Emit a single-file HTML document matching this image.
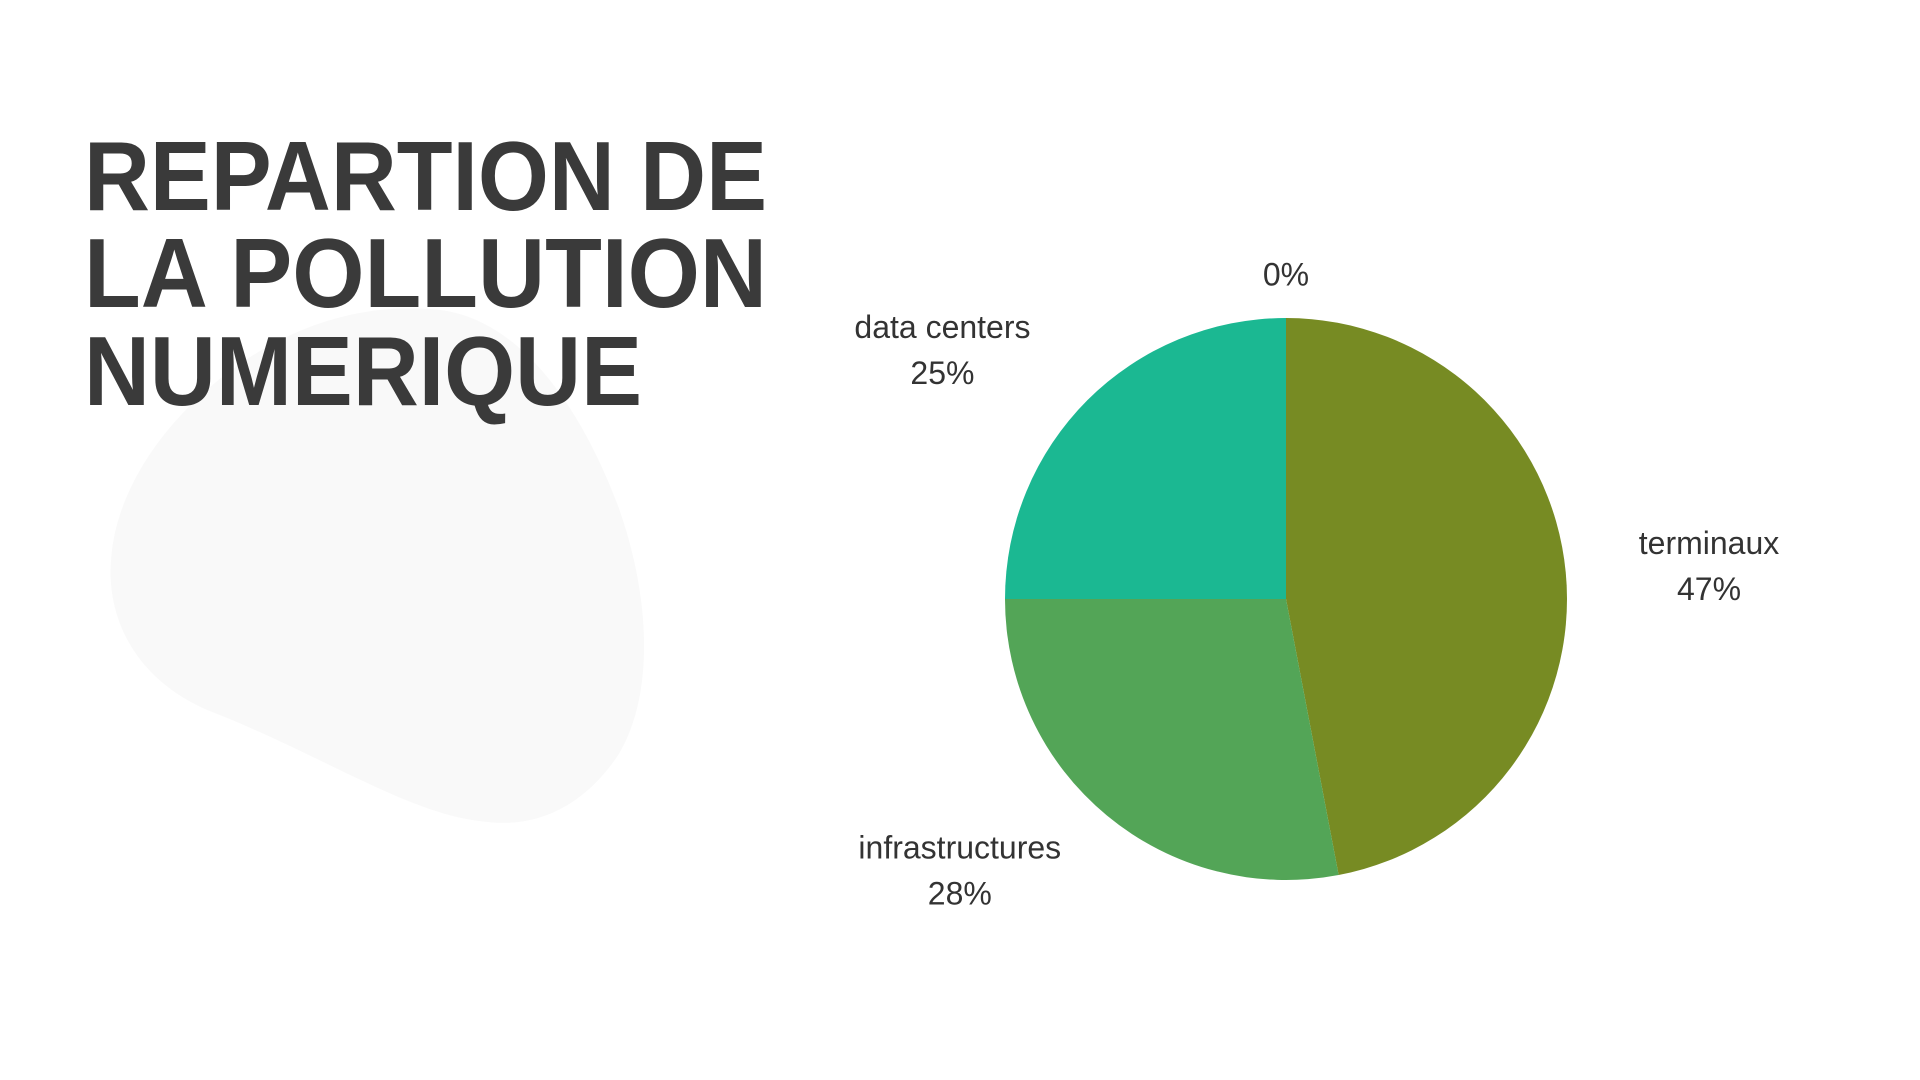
<!DOCTYPE html>
<html><head><meta charset="utf-8"><style>
html,body{margin:0;padding:0;background:#fff;}
svg{display:block;}
</style></head><body>
<svg id="chart" width="1920" height="1080" viewBox="0 0 1920 1080" xmlns="http://www.w3.org/2000/svg">
<rect width="1920" height="1080" fill="#ffffff"/>
<path fill="#f9f9f9" transform="scale(1.237)"
 d="M350,250 C420,255 470,330 500,410 C525,480 530,560 500,610 C470,655 430,670 390,664 C330,658 260,610 170,575 C110,550 85,500 90,450 C95,390 140,330 200,290 C250,258 300,246 350,250 Z"/>
<g fill="#3a3a3a" font-family="'Liberation Sans', sans-serif" font-weight="bold" font-size="98">
<text x="84" y="210" textLength="683" lengthAdjust="spacingAndGlyphs">REPARTION DE</text>
<text x="84" y="307" textLength="683" lengthAdjust="spacingAndGlyphs">LA POLLUTION</text>
<text x="84" y="405" textLength="558" lengthAdjust="spacingAndGlyphs">NUMERIQUE</text>
</g>
<g id="pie"></g>
<g id="labels" font-family="'Liberation Sans', sans-serif" font-size="32" fill="#333" text-anchor="middle"></g>
</svg>
<script>
const categories = ["terminaux", "infrastructures", "data centers", ""];
const values = [47, 28, 25, 0];
const colors = ["#778b23", "#53a557", "#1bb892", "#cccccc"];

const NS = "http://www.w3.org/2000/svg";
const cx = 1286, cy = 599, r = 281;
const total = values.reduce((a,b)=>a+b,0);
const pie = document.getElementById("pie");
const labels = document.getElementById("labels");
function pt(angle, rad){ return [cx + rad*Math.sin(angle), cy - rad*Math.cos(angle)]; }
let acc = 0;
values.forEach((v,i)=>{
  const a0 = acc/total*2*Math.PI;
  acc += v;
  const a1 = acc/total*2*Math.PI;
  if (v > 0) {
    const p0 = pt(a0,r), p1 = pt(a1,r);
    const large = (a1-a0) > Math.PI ? 1 : 0;
    const path = document.createElementNS(NS,"path");
    path.setAttribute("d", `M${cx},${cy} L${p0[0]},${p0[1]} A${r},${r} 0 ${large} 1 ${p1[0]},${p1[1]} Z`);
    path.setAttribute("fill", colors[i]);
    
    
    pie.appendChild(path);
  }
  const mid = (a0+a1)/2;
  const pct = Math.round(v/total*100) + "%";
  const g = document.createElementNS(NS,"g");
  
  
  if (v > 0) {
    const D = 1.51*r;
    const dy = -Math.cos(mid)*D*0.83;
    const dx = Math.sign(Math.sin(mid)) * Math.sqrt(D*D - dy*dy);
    const lx = cx + dx, ly = cy + dy;
    const t1 = document.createElementNS(NS,"text");
    t1.setAttribute("x", lx); t1.setAttribute("y", ly-12);
    t1.textContent = categories[i];
    const t2 = document.createElementNS(NS,"text");
    t2.setAttribute("x", lx); t2.setAttribute("y", ly+34);
    t2.textContent = pct;
    g.appendChild(t1); g.appendChild(t2);
  } else {
    const lp = pt(mid, r*1.115);
    const t = document.createElementNS(NS,"text");
    t.setAttribute("x", lp[0]); t.setAttribute("y", lp[1]);
    t.textContent = pct;
    g.appendChild(t);
  }
  labels.appendChild(g);
});
</script>
</body></html>
